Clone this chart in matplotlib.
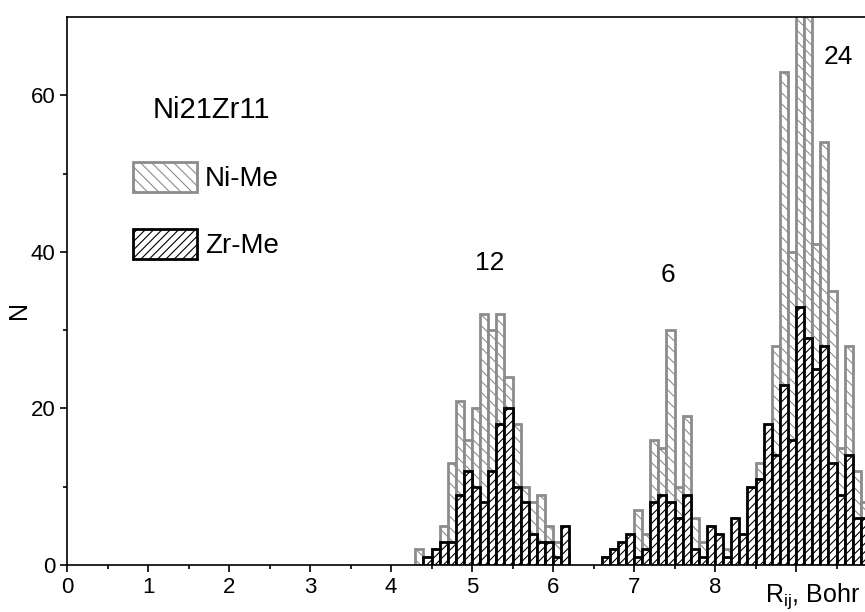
import numpy as np
import matplotlib
matplotlib.use("Agg")
import matplotlib.pyplot as plt
from matplotlib.patches import Patch

plt.rcParams['font.family'] = ['Liberation Sans', 'DejaVu Sans']
plt.rcParams['mathtext.default'] = 'regular'
plt.rcParams['hatch.linewidth'] = 0.8

# histogram bins (left edges, width 0.1 Bohr) from 4.3 to 9.8
bin_left = np.round(np.arange(4.3, 9.85, 0.1), 1)
bin_width = 0.1

ni_me = [2, 1, 2, 5, 13, 21, 16, 20, 32, 30,
         32, 24, 18, 10, 8, 9, 5, 3, 2, 0,
         0, 0, 0, 1, 2, 2, 2, 7, 4, 16,
         15, 30, 10, 19, 6, 3, 3, 3, 2, 3,
         2, 8, 13, 15, 28, 63, 40, 78, 74, 41,
         54, 35, 15, 28, 12, 8]
zr_me = [0, 1, 2, 3, 3, 9, 12, 10, 8, 12,
         18, 20, 10, 8, 4, 3, 3, 1, 5, 0,
         0, 0, 0, 1, 2, 3, 4, 1, 2, 8,
         9, 8, 6, 9, 2, 1, 5, 4, 1, 6,
         4, 10, 11, 18, 14, 23, 16, 33, 29, 25,
         28, 13, 9, 14, 6, 6]

shell_labels = ["12", "6", "24"]
shell_pos = [(5.22, 38.6), (7.42, 37.0), (9.52, 64.9)]

ni_col = '#8c8c8c'
zr_col = 'black'

fig = plt.figure(figsize=(8.65, 6.12), dpi=100)
ax = fig.add_axes([67 / 865, 47 / 612, 810 / 865, 548 / 612])

ni = np.array(ni_me)
zr = np.array(zr_me)
m = ni > 0
ax.bar(bin_left[m], ni[m], width=bin_width, align='edge', facecolor='white',
       edgecolor=ni_col, linewidth=2.0, hatch='\\\\\\', zorder=2)
m = zr > 0
ax.bar(bin_left[m], zr[m], width=bin_width, align='edge', facecolor='white',
       edgecolor=zr_col, linewidth=2.0, hatch='////', zorder=3)

ax.set_xlim(0, 10)
ax.set_ylim(0, 70)
ax.set_xticks(range(10), labels=[str(i) for i in range(9)] + [''])
ax.set_xticks(np.arange(0.5, 10, 1), minor=True)
ax.set_yticks([0, 20, 40, 60])
ax.set_yticks([10, 30, 50], minor=True)
ax.tick_params(direction='out', length=5, width=1.2, labelsize=16)
ax.tick_params(which='minor', direction='out', length=3, width=1.2)
for s in ['left', 'bottom', 'top', 'right']:
    ax.spines[s].set_linewidth(1.2)

ax.set_ylabel('N', fontsize=18)
ax.yaxis.set_label_coords(-0.045, 0.465)
ax.set_xlabel(r'R$_{ij}$, Bohr', fontsize=18)
ax.xaxis.set_label_coords(0.92, -0.03)

ax.text(1.78, 58.1, 'Ni21Zr11', fontsize=21, ha='center', va='center')
for lab, (x, y) in zip(shell_labels, shell_pos):
    ax.text(x, y, lab, fontsize=19, ha='center', va='center')

handles = [Patch(facecolor='white', edgecolor=ni_col, linewidth=2.0, hatch='\\\\\\', label='Ni-Me'),
           Patch(facecolor='white', edgecolor=zr_col, linewidth=2.0, hatch='////', label='Zr-Me')]
ax.legend(handles=handles, loc='upper left', bbox_to_anchor=(133 / 865, 1 - 162 / 612),
          bbox_transform=fig.transFigure, frameon=False, fontsize=20,
          handlelength=2.3, handleheight=1.3, handletextpad=0.3,
          labelspacing=1.3, borderpad=0, borderaxespad=0)

fig.savefig('out.png', dpi=100)
